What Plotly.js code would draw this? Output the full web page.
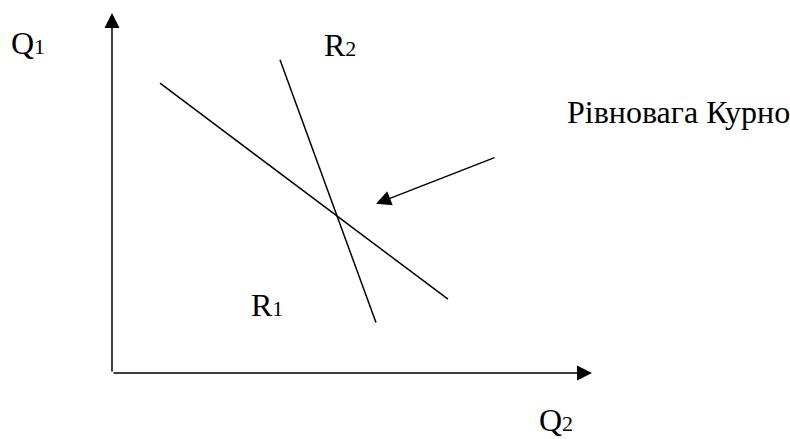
<!DOCTYPE html>
<html>
<head>
<meta charset="utf-8">
<script src="https://cdn.plot.ly/plotly-3.0.1.min.js"></script>
<style>
  html, body { margin: 0; padding: 0; background: #ffffff; }
  #chart { width: 790px; height: 439px; }
</style>
</head>
<body>
<div id="chart"></div>
<script>
// Reaction curves, Q2 on x, Q1 on y (axes run 0..10)
const r1Q2 = [1.0, 7.0];
const r1Q1 = [8.05, 2.05];
const r2Q2 = [3.5, 5.5];
const r2Q1 = [8.7, 1.4];

// Pointer to the equilibrium: tail -> head
const pointerQ2 = [8.0, 5.5];
const pointerQ1 = [6.0, 4.7];

// Axis extents
const axisMax = [10, 10];

// Labels (small index kept near the baseline, like the original)
const sub = s => '<span style="font-size:22px">' + s + '</span>';
const labelTexts = ['Q' + sub('1'), 'R' + sub('2'), 'Рівновага Курно', 'R' + sub('1'), 'Q' + sub('2')];

const serif = { family: 'Liberation Serif, Times New Roman, serif', size: 32, color: '#000000' };
const lineStyle = { color: '#000000', width: 1.5 };

const traces = [
  { x: r1Q2, y: r1Q1, type: 'scatter', mode: 'lines', line: lineStyle, hoverinfo: 'skip' },
  { x: r2Q2, y: r2Q1, type: 'scatter', mode: 'lines', line: lineStyle, hoverinfo: 'skip' }
];

// arrows drawn as annotations (axes + pointer)
function arrow(x0, y0, x1, y1) {
  return {
    x: x1, y: y1, ax: x0, ay: y0,
    xref: 'x', yref: 'y', axref: 'x', ayref: 'y',
    text: '', showarrow: true,
    arrowhead: 2, arrowsize: 2, arrowwidth: 1.5, arrowcolor: '#000000',
    standoff: 0, startstandoff: 0
  };
}

function label(i, x, y) {
  return {
    x: x, y: y, xref: 'x', yref: 'y',
    text: labelTexts[i], showarrow: false,
    font: serif, xanchor: 'center', yanchor: 'middle'
  };
}

const annotations = [
  arrow(0, 0, axisMax[0], 0),
  arrow(0, 0, 0, axisMax[1]),
  arrow(pointerQ2[0], pointerQ1[0], pointerQ2[1], pointerQ1[1]),
  label(0, -1.75, 9.17),
  label(1, 4.75, 9.11),
  label(2, 11.8, 7.25),
  label(3, 3.23, 1.89),
  label(4, 9.25, -1.3)
];

const layout = {
  width: 790,
  height: 439,
  margin: { t: 0, r: 0, l: 0, b: 0 },
  paper_bgcolor: '#ffffff',
  plot_bgcolor: '#ffffff',
  showlegend: false,
  xaxis: { range: [-2.333, 14.125], visible: false, fixedrange: true },
  yaxis: { range: [-1.833, 10.361], visible: false, fixedrange: true },
  annotations: annotations
};

Plotly.newPlot('chart', traces, layout, { displayModeBar: false, staticPlot: true });
</script>
</body>
</html>
